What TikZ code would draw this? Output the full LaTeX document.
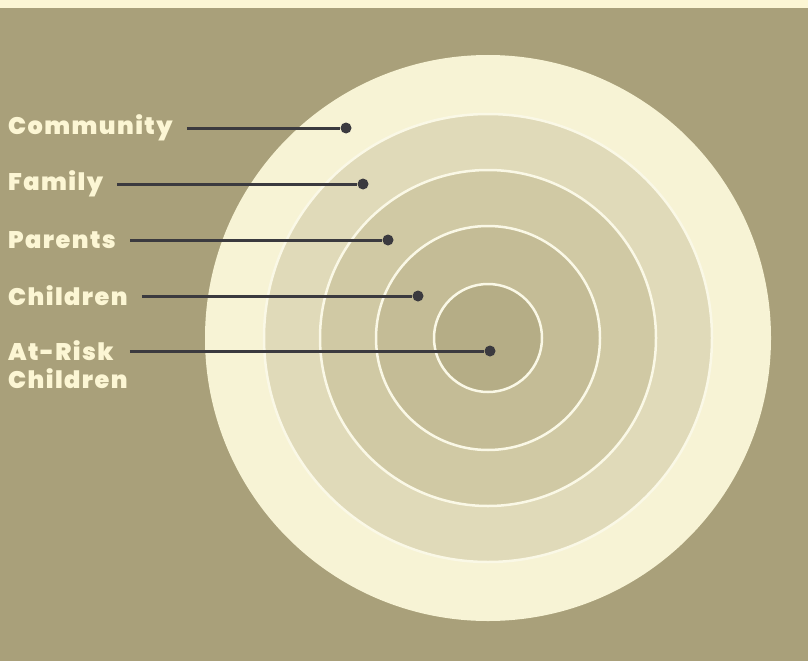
\documentclass[tikz,border=0pt]{standalone}
\usepackage{fontspec}
\setmainfont{Poppins}
\newfontfamily\lblfont{Poppins}[UprightFont=* Black, LetterSpace=6]
\usepackage{tikz}
\usetikzlibrary{calc}

\definecolor{paper}{HTML}{A9A07A}
\definecolor{strip}{HTML}{FCF6D4}
\definecolor{creme}{HTML}{F7F3D5}
\definecolor{ringb}{HTML}{E0DAB9}
\definecolor{ringc}{HTML}{D0C9A4}
\definecolor{ringd}{HTML}{C4BC96}
\definecolor{core}{HTML}{B5AD86}
\definecolor{pin}{HTML}{3B3A3F}

\begin{document}
\begin{tikzpicture}[
  x=1pt, y=-1pt,
  ring/.style={draw=creme!60!white, line width=2.5pt},
  lbl/.style={anchor=west, text=strip, font=\lblfont\fontsize{24}{28}\selectfont, inner ysep=7pt, inner xsep=14pt},
  leader/.style={draw=pin, line width=3pt},
  dot/.style={circle, fill=pin, inner sep=0pt, minimum size=11pt}
]

% page
\useasboundingbox (0,0) rectangle (808,661);
\fill[paper] (0,0) rectangle (808,661);
\fill[strip] (0,0) rectangle (808,8);

% target rings, outside in
\coordinate (mid) at (488,338);
\fill[creme] (mid) circle[radius=283pt];
\draw[ring, fill=ringb] (mid) circle[radius=224pt];
\draw[ring, fill=ringc] (mid) circle[radius=168pt];
\draw[ring, fill=ringd] (mid) circle[radius=112pt];
\draw[ring, fill=core] (mid) circle[radius=54pt];

% labels
\node[lbl] (comm) at (-6,128) {Community};
\node[lbl] (fam) at (-6,184) {Family};
\node[lbl] (par) at (-6,240) {Parents};
\node[lbl] (chi) at (-6,296) {Children};
\node[lbl, inner xsep=16pt] (risk) at (-8,351) {At-Risk};
\node[lbl] (risk2) at (-6,379) {Children};

% pins
\node[dot] (comm-dot) at (346,128) {};
\node[dot] (fam-dot) at (363,184) {};
\node[dot] (par-dot) at (388,240) {};
\node[dot] (chi-dot) at (418,296) {};
\node[dot] (risk-dot) at (490,351) {};

\draw[leader] (comm.east |- comm-dot) -- (comm-dot);
\draw[leader] (fam.east |- fam-dot) -- (fam-dot);
\draw[leader] (par.east |- par-dot) -- (par-dot);
\draw[leader] (chi.east |- chi-dot) -- (chi-dot);
\draw[leader] (risk.east |- risk-dot) -- (risk-dot);

\end{tikzpicture}
\end{document}
